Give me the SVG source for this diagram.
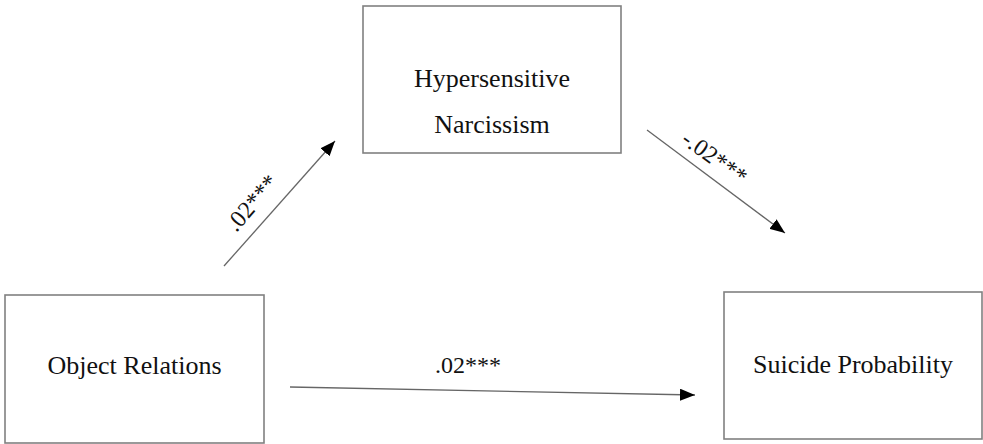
<svg xmlns="http://www.w3.org/2000/svg" width="983" height="444" viewBox="0 0 983 444">
<style>
.box{fill:#fff;stroke:#808080;stroke-width:1.6}
.t{font-family:"Liberation Serif","Times New Roman",serif;font-size:26px;fill:#111;text-anchor:middle}
.lb{font-family:"Liberation Serif","Times New Roman",serif;font-size:24px;fill:#111;text-anchor:middle}
.edge{stroke:#666;stroke-width:1.3;fill:none}
</style>
<defs>
<marker id="ah" markerUnits="userSpaceOnUse" markerWidth="16" markerHeight="12" refX="15" refY="6" orient="auto">
<path d="M0,0 L15,6 L0,12 z" fill="#000"/>
</marker>
</defs>
<rect width="983" height="444" fill="#fff"/>
<g id="object-relations">
<rect class="box" x="5" y="295" width="259" height="148"/>
<text class="t" x="134.5" y="374">Object Relations</text>
</g>
<g id="hypersensitive-narcissism">
<rect class="box" x="363" y="6" width="258" height="147"/>
<text class="t" x="492" y="87">Hypersensitive</text>
<text class="t" x="492" y="133">Narcissism</text>
</g>
<g id="suicide-probability">
<rect class="box" x="724" y="292" width="258" height="147"/>
<text class="t" x="853" y="373">Suicide Probability</text>
</g>
<g id="connectors">
<line class="edge" x1="224" y1="266" x2="335" y2="141" marker-end="url(#ah)"/>
<line class="edge" x1="647" y1="130" x2="785" y2="233" marker-end="url(#ah)"/>
<line class="edge" x1="290" y1="387" x2="695" y2="395" marker-end="url(#ah)"/>
<text class="lb" transform="translate(258,208) rotate(-49)" x="0" y="0">.02***</text>
<text class="lb" transform="translate(710,164) rotate(36)" x="0" y="0">-.02***</text>
<text class="lb" x="468" y="373">.02***</text>
</g>
</svg>
